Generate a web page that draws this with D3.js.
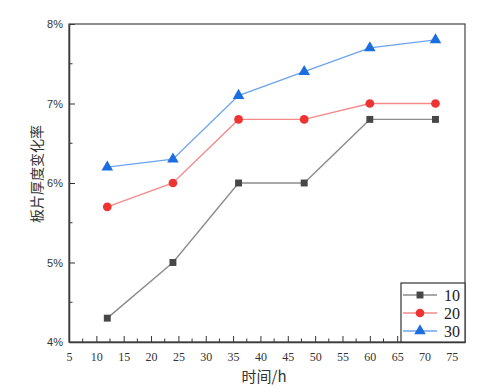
<!DOCTYPE html>
<html>
<head>
<meta charset="utf-8">
<script src="https://cdn.jsdelivr.net/npm/d3@7"></script>
<style>
    body { margin: 0; background: #fff; }
</style>
</head>
<body>
<div id="chart"></div>
<script>
'use strict';

// data
const hours = [12, 24, 36, 48, 60, 72];
const seriesNames = ['10', '20', '30'];
const values10 = [4.3, 5.0, 6.0, 6.0, 6.8, 6.8];
const values20 = [5.7, 6.0, 6.8, 6.8, 7.0, 7.0];
const values30 = [6.2, 6.3, 7.1, 7.4, 7.7, 7.8];
const xTicks = [5, 10, 15, 20, 25, 30, 35, 40, 45, 50, 55, 60, 65, 70, 75];
const yTicks = [4, 5, 6, 7, 8];

const width = 501;
const height = 392;
const margin = { top: 24, right: 36, bottom: 50, left: 69 };
const chartWidth = width - margin.left - margin.right;
const chartHeight = height - margin.top - margin.bottom;

const styles = [
    { line: '#8c8c8c', marker: '#474747', shape: d3.symbolSquare, size: 48 },
    { line: '#f48a8a', marker: '#ee3333', shape: d3.symbolCircle, size: 60 },
    { line: '#6ea4ef', marker: '#1a6ee0', shape: d3.symbolTriangle, size: 58 }
];

const data = [values10, values20, values30].map(function (vals, i) {
    return {
        name: seriesNames[i],
        style: styles[i],
        values: vals.map(function (v, j) {
            return { hour: hours[j], value: v };
        })
    };
});

const svg = d3.select('#chart')
    .append('svg')
    .attr('width', width)
    .attr('height', height);

const chart = svg.append('g')
    .attr('transform', `translate(${margin.left},${margin.top})`);

const xScale = d3.scaleLinear()
    .domain([5, 77.4])
    .range([0, chartWidth]);

const yScale = d3.scaleLinear()
    .domain([4, 8])
    .range([chartHeight, 0]);

// minor ticks, inward
const xMinor = d3.range(7.5, 77, 5);
const yMinor = [4.5, 5.5, 6.5, 7.5];

const xAxis = chart.append('g')
    .attr('transform', `translate(0,${chartHeight})`)
    .call(d3.axisBottom(xScale).tickValues(xTicks).tickSizeInner(-6).tickSizeOuter(0).tickPadding(10));

xAxis.selectAll('text')
    .attr('font-family', '"Liberation Serif", serif')
    .attr('font-size', 12)
    .attr('fill', '#333');

chart.append('g')
    .attr('transform', `translate(0,${chartHeight})`)
    .selectAll('line')
    .data(xMinor)
    .join('line')
    .attr('x1', function (d) { return xScale(d); })
    .attr('x2', function (d) { return xScale(d); })
    .attr('y1', 0)
    .attr('y2', -3.5)
    .attr('stroke', '#333');

const yAxis = chart.append('g')
    .call(d3.axisLeft(yScale).tickValues(yTicks).tickSizeInner(-6).tickSizeOuter(0).tickPadding(6)
        .tickFormat(function (d) { return d + '%'; }));

yAxis.selectAll('text')
    .attr('font-family', '"Liberation Sans", Arial, sans-serif')
    .attr('font-size', 11)
    .attr('fill', '#333');

chart.append('g')
    .selectAll('line')
    .data(yMinor)
    .join('line')
    .attr('x1', 0)
    .attr('x2', 3.5)
    .attr('y1', function (d) { return yScale(d); })
    .attr('y2', function (d) { return yScale(d); })
    .attr('stroke', '#333');

chart.selectAll('.domain').attr('stroke', '#333').attr('stroke-width', 1.5);
chart.selectAll('.tick line').attr('stroke', '#333');

// frame
chart.append('rect')
    .attr('width', chartWidth)
    .attr('height', chartHeight)
    .attr('fill', 'none')
    .attr('stroke', '#444')
    .attr('stroke-width', 1.2);

// axis titles
svg.append('text')
    .attr('transform', 'translate(42,174) rotate(-90)')
    .attr('text-anchor', 'middle')
    .attr('font-family', '"Noto Sans CJK SC", sans-serif')
    .attr('font-size', 14)
    .attr('fill', '#333')
    .text('板片厚度变化率');

svg.append('text')
    .attr('x', 264)
    .attr('y', 382)
    .attr('text-anchor', 'middle')
    .attr('font-family', '"Noto Sans CJK SC", sans-serif')
    .attr('font-size', 15)
    .attr('fill', '#333')
    .text('时间/h');

const lineGen = d3.line()
    .x(function (d) { return xScale(d.hour); })
    .y(function (d) { return yScale(d.value); });

chart.selectAll('path.line-path')
    .data(data)
    .join('path')
    .attr('class', 'line-path')
    .attr('fill', 'none')
    .attr('stroke', function (d) { return d.style.line; })
    .attr('stroke-width', 1.4)
    .attr('d', function (d) { return lineGen(d.values); });

data.forEach(function (series) {
    chart.selectAll(null)
        .data(series.values)
        .join('path')
        .attr('transform', function (d) {
            return `translate(${xScale(d.hour)},${yScale(d.value)})`;
        })
        .attr('d', d3.symbol().type(series.style.shape).size(series.style.size))
        .attr('fill', series.style.marker);
});

// legend in lower right corner
const legend = chart.append('g')
    .attr('transform', `translate(${chartWidth - 64},${chartHeight - 59})`);

legend.append('rect')
    .attr('width', 64)
    .attr('height', 59)
    .attr('fill', '#fff')
    .attr('stroke', '#333')
    .attr('stroke-width', 1.2);

data.forEach(function (series, i) {
    const y = 12 + i * 18;
    legend.append('line')
        .attr('x1', 2)
        .attr('x2', 36)
        .attr('y1', y)
        .attr('y2', y)
        .attr('stroke', series.style.line)
        .attr('stroke-width', 1.4);
    legend.append('path')
        .attr('transform', `translate(19,${y})`)
        .attr('d', d3.symbol().type(series.style.shape).size(series.style.size))
        .attr('fill', series.style.marker);
    legend.append('text')
        .attr('x', 43)
        .attr('y', y)
        .attr('dominant-baseline', 'central')
        .attr('font-family', '"Liberation Serif", serif')
        .attr('font-size', 16)
        .attr('fill', '#222')
        .text(series.name);
});
</script>
</body>
</html>
